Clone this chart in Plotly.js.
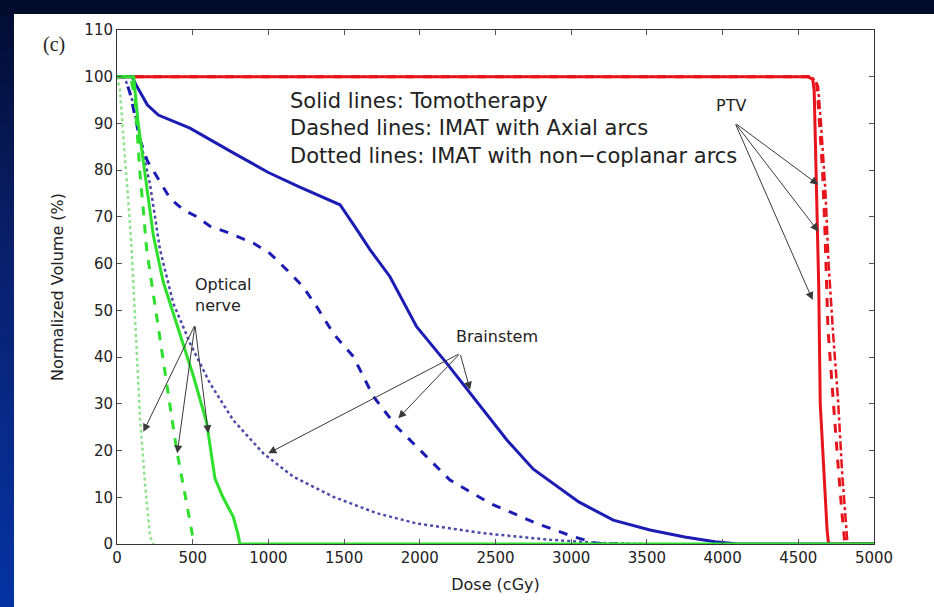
<!DOCTYPE html>
<html>
<head>
<meta charset="utf-8">
<script src="https://cdn.plot.ly/plotly-3.0.1.min.js"></script>
<style>
  html, body { margin: 0; padding: 0; width: 934px; height: 607px; overflow: hidden; }
  body { background: linear-gradient(to bottom, #020c30 0%, #0a1f6a 40%, #0533a4 100%); position: relative; }
  #topband { position: absolute; left: 0; top: 0; width: 934px; height: 14px; background: #020b2c; }
  #chart { position: absolute; left: 14px; top: 14px; width: 920px; height: 593px; background: #fff; }
</style>
</head>
<body>
<div id="topband"></div>
<div id="chart"></div>
<script>
// Dose-volume histograms (dose in cGy, normalized volume in %)

// PTV
const ptvTomoDose   = [0, 4560, 4595, 4605, 4610, 4620, 4635, 4645, 4660, 4675, 4690, 4700, 5000];
const ptvTomoVol    = [100, 100, 99.5, 97, 90, 75, 55, 30, 20, 10, 3, 0, 0];
const ptvAxialDose  = [0, 4580, 4620, 4630, 4660, 4676, 4696, 4729, 4760, 4790, 4808, 5000];
const ptvAxialVol   = [100, 100, 99, 95, 80, 67, 46, 31, 18, 6, 0, 0];
const ptvNoncopDose = [0, 4590, 4630, 4650, 4680, 4700, 4730, 4762, 4790, 4815, 4825, 5000];
const ptvNoncopVol  = [100, 100, 98, 90, 75, 60, 45, 31, 15, 3, 0, 0];

// Brainstem
const bsTomoDose   = [0, 100, 130, 152, 200, 273, 482, 768, 1000, 1200, 1473, 1580, 1671, 1803, 1979, 2177, 2332, 2574, 2750, 2882, 3050, 3278, 3520, 3750, 3950, 4100, 5000];
const bsTomoVol    = [100, 100, 98, 96.7, 94, 91.8, 89, 83.7, 79.5, 76.5, 72.6, 67.5, 63, 57.2, 46.5, 38.7, 32.3, 22.3, 16, 13, 9, 5.1, 3, 1.5, 0.5, 0, 0];
const bsAxialDose  = [0, 50, 86, 152, 200, 262, 350, 438, 530, 614, 746, 900, 1010, 1143, 1230, 1319, 1430, 1561, 1693, 1847, 1999, 2199, 2464, 2772, 3012, 3168, 3300];
const bsAxialVol   = [100, 100, 96.5, 86.5, 82, 78.7, 74, 71.5, 70, 68, 66.5, 64.4, 62.2, 58, 55, 50.8, 45, 40.1, 31.6, 25.1, 20.1, 13.7, 8.7, 4.4, 1.6, 0.15, 0];
const bsNoncopDose = [0, 50, 100, 150, 218, 284, 372, 482, 614, 768, 966, 1164, 1429, 1715, 1979, 2420, 2860, 3200, 3500];
const bsNoncopVol  = [100, 100, 95, 87, 77, 63, 51.5, 43, 34.4, 26.5, 19.4, 14.4, 10.1, 6.6, 4.4, 2.3, 0.9, 0.2, 0];

// Optical nerve
const onTomoDose   = [0, 110, 140, 174, 240, 306, 394, 504, 592, 620, 647, 700, 768, 800, 812, 5000];
const onTomoVol    = [100, 100, 90, 81.5, 66, 56, 47, 36, 26, 20, 14, 10, 5.8, 2, 0, 0];
const onAxialDose  = [0, 90, 120, 150, 175, 196, 262, 328, 394, 460, 504, 520];
const onAxialVol   = [100, 100, 95, 80, 71, 63, 48.7, 34.4, 20.1, 8.7, 0.9, 0];
const onNoncopDose = [0, 20, 40, 60, 80, 97, 115, 130, 152, 185, 218, 240];
const onNoncopVol  = [100, 97, 88, 80, 71, 63, 52, 41.5, 27, 13, 1.6, 0];

// Axis ticks
const xTicks = [0, 500, 1000, 1500, 2000, 2500, 3000, 3500, 4000, 4500, 5000];
const yTicks = [0, 10, 20, 30, 40, 50, 60, 70, 80, 90, 100, 110];

const RED = '#e8141c', BLUE = '#1c1cb4', BLUE_DOT = '#4a4aa8', GREEN = '#2ee02e', GREEN_DOT = '#8fe38f';

function line(x, y, color, width, dash) {
  return { x: x, y: y, type: 'scatter', mode: 'lines', hoverinfo: 'skip', showlegend: false,
           line: { color: color, width: width, dash: dash } };
}

const traces = [
  line(ptvNoncopDose, ptvNoncopVol, RED, 2.5, 'dashdot'),
  line(ptvAxialDose, ptvAxialVol, RED, 3, 'dash'),
  line(ptvTomoDose, ptvTomoVol, RED, 3, 'solid'),
  line(bsNoncopDose, bsNoncopVol, BLUE_DOT, 2.5, 'dot'),
  line(bsAxialDose, bsAxialVol, BLUE, 3, 'dash'),
  line(bsTomoDose, bsTomoVol, BLUE, 3, 'solid'),
  line(onNoncopDose, onNoncopVol, GREEN_DOT, 2.5, 'dot'),
  line(onAxialDose, onAxialVol, GREEN, 3, 'dash'),
  line(onTomoDose, onTomoVol, GREEN, 3, 'solid')
];

const ARROW = '#3a3a3a';
function arrow(tx, ty, hx, hy) {
  return { x: hx, y: hy, ax: tx, ay: ty, xref: 'x', yref: 'y', axref: 'x', ayref: 'y',
           text: '', showarrow: true, arrowhead: 2, arrowsize: 1.6, arrowwidth: 1,
           arrowcolor: ARROW, standoff: 0, startstandoff: 0 };
}
const labelFont = { family: 'DejaVu Sans, sans-serif', size: 16, color: '#222' };

const M = { l: 103, r: 60, t: 16, b: 63 };
const plotW = 920 - M.l - M.r, plotH = 593 - M.t - M.b;

const annotations = [
  { x: 1130, y: 97.8, xref: 'x', yref: 'y', xanchor: 'left', yanchor: 'top', align: 'left', showarrow: false,
    text: 'Solid lines: Tomotherapy<br>Dashed lines: IMAT with Axial arcs<br>Dotted lines: IMAT with non\u2212coplanar arcs',
    font: { family: 'DejaVu Sans, sans-serif', size: 21, color: '#222' } },
  { x: 4055, y: 93.8, xref: 'x', yref: 'y', showarrow: false, text: 'PTV', font: labelFont },
  { x: 502, y: 53.3, xref: 'x', yref: 'y', xanchor: 'left', align: 'left', showarrow: false,
    text: 'Optical<br>nerve', font: labelFont },
  { x: 2510, y: 44.5, xref: 'x', yref: 'y', showarrow: false, text: 'Brainstem', font: labelFont },
  arrow(4082, 90.1, 4632, 76.9),
  arrow(4082, 90.1, 4632, 66.9),
  arrow(4082, 90.1, 4595, 52.2),
  arrow(515, 46.9, 174, 24),
  arrow(515, 46.9, 398, 19.4),
  arrow(515, 46.9, 603, 23.7),
  arrow(2266, 40.8, 2332, 33),
  arrow(2266, 40.8, 1858, 26.9),
  arrow(2266, 40.8, 999, 19.4),
  { x: (41 - 14 - M.l) / plotW, y: 1 - (31 - 14 - M.t) / plotH, xref: 'paper', yref: 'paper',
    showarrow: false, text: '(c)', font: { family: 'Liberation Serif, serif', size: 20, color: '#222' } }
];

const axisCommon = {
  showgrid: false, zeroline: false, showline: true, linecolor: '#333', linewidth: 1,
  mirror: 'ticks', ticks: 'inside', ticklen: 5, tickcolor: '#555', tickwidth: 1,
  tickfont: { family: 'DejaVu Sans, sans-serif', size: 15, color: '#222' },
  fixedrange: true
};

const layout = {
  width: 920, height: 593,
  margin: M,
  paper_bgcolor: '#ffffff', plot_bgcolor: '#ffffff',
  showlegend: false,
  xaxis: Object.assign({}, axisCommon, {
    range: [0, 5000], tickvals: xTicks, ticktext: xTicks.map(String),
    title: { text: 'Dose (cGy)', standoff: 12, font: { family: 'DejaVu Sans, sans-serif', size: 16, color: '#222' } }
  }),
  yaxis: Object.assign({}, axisCommon, {
    range: [0, 110], tickvals: yTicks, ticktext: yTicks.map(String),
    title: { text: 'Normalized Volume (%)', standoff: 16, font: { family: 'DejaVu Sans, sans-serif', size: 16, color: '#222' } }
  }),
  annotations: annotations
};

Plotly.newPlot('chart', traces, layout, { displayModeBar: false, staticPlot: true });
</script>
</body>
</html>
